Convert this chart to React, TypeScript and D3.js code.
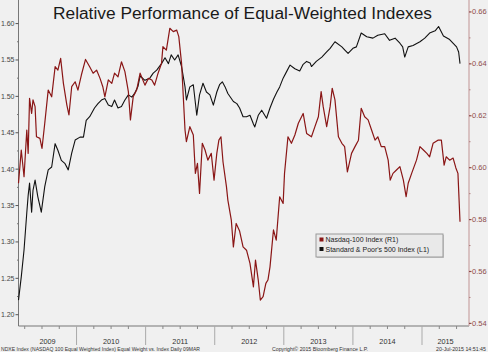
import React from 'react';
import * as d3 from 'd3';

const W = 488;
const H = 352;

const chartTitle = 'Relative Performance of Equal-Weighted Indexes';

// Standard & Poor's 500 equal weight vs index (left axis, L1)
const spxYears = [2009.16,2009.20,2009.24,2009.28,2009.30,2009.32,2009.35,2009.37,2009.40,2009.44,2009.49,2009.54,2009.59,2009.64,2009.69,2009.73,2009.78,2009.83,2009.88,2009.93,2009.98,2010.05,2010.10,2010.14,2010.19,2010.26,2010.31,2010.36,2010.41,2010.46,2010.51,2010.55,2010.60,2010.65,2010.70,2010.75,2010.80,2010.84,2010.89,2010.92,2010.99,2011.06,2011.11,2011.16,2011.23,2011.28,2011.33,2011.37,2011.42,2011.47,2011.52,2011.57,2011.59,2011.64,2011.69,2011.74,2011.78,2011.83,2011.88,2011.93,2011.98,2012.03,2012.07,2012.11,2012.15,2012.19,2012.27,2012.32,2012.36,2012.41,2012.46,2012.51,2012.56,2012.58,2012.63,2012.68,2012.75,2012.80,2012.85,2012.90,2012.94,2012.99,2013.04,2013.09,2013.16,2013.23,2013.28,2013.33,2013.38,2013.40,2013.47,2013.55,2013.62,2013.67,2013.74,2013.84,2013.88,2013.93,2014.00,2014.05,2014.12,2014.20,2014.29,2014.36,2014.46,2014.53,2014.61,2014.68,2014.72,2014.75,2014.80,2014.87,2014.97,2015.04,2015.11,2015.19,2015.24,2015.31,2015.40,2015.50,2015.53,2015.55];
const spxValues = [1.220,1.252,1.289,1.340,1.364,1.381,1.341,1.371,1.385,1.362,1.341,1.376,1.399,1.403,1.435,1.426,1.412,1.408,1.399,1.422,1.440,1.444,1.444,1.467,1.472,1.484,1.490,1.495,1.497,1.488,1.486,1.495,1.484,1.486,1.495,1.502,1.499,1.504,1.514,1.528,1.522,1.525,1.532,1.536,1.545,1.553,1.545,1.557,1.550,1.557,1.541,1.513,1.495,1.513,1.516,1.474,1.502,1.518,1.506,1.502,1.488,1.506,1.516,1.520,1.513,1.504,1.493,1.490,1.484,1.472,1.472,1.474,1.462,1.458,1.474,1.481,1.470,1.484,1.496,1.506,1.513,1.525,1.534,1.543,1.538,1.535,1.544,1.548,1.546,1.541,1.548,1.554,1.561,1.566,1.575,1.568,1.564,1.559,1.566,1.568,1.587,1.582,1.580,1.584,1.586,1.577,1.580,1.573,1.568,1.554,1.568,1.570,1.575,1.580,1.587,1.590,1.596,1.583,1.578,1.568,1.561,1.545];

// Nasdaq-100 equal weight vs index (right axis, R1)
const ndxYears = [2009.16,2009.18,2009.20,2009.24,2009.28,2009.30,2009.32,2009.35,2009.37,2009.40,2009.42,2009.47,2009.50,2009.54,2009.59,2009.64,2009.69,2009.73,2009.77,2009.81,2009.86,2009.89,2009.93,2009.98,2010.02,2010.07,2010.13,2010.19,2010.24,2010.29,2010.34,2010.38,2010.41,2010.46,2010.51,2010.55,2010.60,2010.65,2010.70,2010.75,2010.78,2010.82,2010.87,2010.92,2010.99,2011.04,2011.09,2011.13,2011.18,2011.23,2011.25,2011.30,2011.35,2011.40,2011.45,2011.48,2011.52,2011.57,2011.59,2011.64,2011.69,2011.72,2011.75,2011.78,2011.82,2011.86,2011.90,2011.95,2011.99,2012.03,2012.06,2012.09,2012.12,2012.17,2012.19,2012.24,2012.27,2012.31,2012.36,2012.41,2012.46,2012.51,2012.56,2012.59,2012.63,2012.66,2012.70,2012.74,2012.77,2012.80,2012.85,2012.89,2012.94,2012.99,2013.01,2013.06,2013.11,2013.16,2013.21,2013.28,2013.33,2013.40,2013.45,2013.50,2013.54,2013.57,2013.62,2013.67,2013.70,2013.74,2013.79,2013.84,2013.88,2013.92,2013.98,2014.03,2014.08,2014.12,2014.17,2014.22,2014.27,2014.32,2014.36,2014.41,2014.46,2014.51,2014.54,2014.58,2014.63,2014.68,2014.73,2014.77,2014.80,2014.85,2014.92,2014.97,2015.02,2015.07,2015.11,2015.16,2015.23,2015.28,2015.32,2015.35,2015.40,2015.45,2015.49,2015.52,2015.55];
const ndxValues = [0.5940,0.6004,0.6068,0.5965,0.6145,0.6055,0.6267,0.6209,0.6261,0.6235,0.6119,0.6113,0.6074,0.6171,0.6299,0.6273,0.6389,0.6376,0.6421,0.6325,0.6241,0.6203,0.6312,0.6331,0.6299,0.6357,0.6417,0.6389,0.6364,0.6376,0.6344,0.6312,0.6273,0.6338,0.6325,0.6364,0.6350,0.6408,0.6370,0.6293,0.6184,0.6273,0.6299,0.6364,0.6318,0.6344,0.6338,0.6318,0.6364,0.6402,0.6466,0.6453,0.6537,0.6524,0.6530,0.6505,0.6402,0.6145,0.6100,0.6158,0.6126,0.5978,0.6017,0.5901,0.6094,0.6068,0.6029,0.6055,0.5952,0.6055,0.6106,0.6119,0.6022,0.5926,0.5875,0.5798,0.5695,0.5785,0.5756,0.5695,0.5682,0.5631,0.5541,0.5644,0.5567,0.5490,0.5503,0.5554,0.5567,0.5618,0.5760,0.5721,0.5888,0.5862,0.5978,0.6119,0.6094,0.6126,0.6171,0.6209,0.6132,0.6119,0.6158,0.6196,0.6293,0.6235,0.6158,0.6235,0.6306,0.6261,0.6119,0.6094,0.6081,0.5984,0.6055,0.6081,0.6106,0.6229,0.6196,0.6184,0.6145,0.6106,0.6119,0.6081,0.6081,0.6029,0.5952,0.5978,0.5991,0.6004,0.5952,0.5888,0.5940,0.5978,0.6029,0.6081,0.6068,0.6055,0.6042,0.6094,0.6106,0.6106,0.6010,0.6042,0.6029,0.6037,0.5999,0.5978,0.5792];

const yearLabels = ['2009', '2010', '2011', '2012', '2013', '2014', '2015'];
const leftTickValues = [1.20, 1.25, 1.30, 1.35, 1.40, 1.45, 1.50, 1.55, 1.60];
const rightTickValues = [0.54, 0.56, 0.58, 0.60, 0.62, 0.64, 0.66];
const legendLabels = ['Nasdaq-100 Index (R1)', "Standard & Poor's 500 Index (L1)"];
const footerLeft = 'NDXE Index (NASDAQ 100 Equal Weighted Index) Equal Weight vs. Index  Daily 09MAR';
const footerMid = 'Copyright\u00A9 2015 Bloomberg Finance L.P.';
const footerRight = '20-Jul-2015 14:51:45';

const RED = '#8a1616';
const BLACK = '#111111';

export default function App() {
  const x0 = 18.5, x1 = 469, yTop = 0, yBot = 326;
  const x = d3.scaleLinear().domain([2009.16, 2015.68]).range([x0, x1]);
  const yL = d3.scaleLinear().domain([1.1845, 1.6324]).range([yBot, yTop]);
  const yR = d3.scaleLinear().domain([0.539, 0.6646]).range([yBot, yTop]);

  const lineL = d3.line<number>().x((_, i) => x(spxYears[i])).y((d) => yL(d));
  const lineR = d3.line<number>().x((_, i) => x(ndxYears[i])).y((d) => yR(d));

  const yearNums = yearLabels.map(Number);
  const boundaries = yearNums.slice(1).map((y) => x(y));
  const quarterTicks: number[] = [];
  yearNums.forEach((yr) => {
    [0.25, 0.5, 0.75].forEach((q) => {
      const v = yr + q;
      if (v > 2009.16 && v < 2015.68) quarterTicks.push(x(v));
    });
  });
  const leftMinor = d3.range(0, 16).map((i) => 1.2 + i * 0.05 + 0.025).filter((v) => v < 1.61);
  const rightMinor = d3.range(0, 6).map((i) => 0.55 + i * 0.02);

  const tickFont = 'Liberation Sans, Arial, sans-serif';

  return (
    <svg width={W} height={H} style={{ position: 'absolute', left: 0, top: 0, display: 'block' }}>
      <rect x={0} y={0} width={W} height={H} fill="#f0f0f0" />

      {/* title */}
      <text x={53} y={19} fontFamily="Liberation Sans, Arial, sans-serif" fontSize={17.3} fill="#1a1a1a"
        textLength={379} lengthAdjust="spacingAndGlyphs">{chartTitle}</text>

      {/* axes lines */}
      <line x1={x0} x2={x0} y1={yTop} y2={yBot} stroke="#777" strokeWidth={1} />
      <line x1={x0} x2={x1} y1={yBot} y2={yBot} stroke="#777" strokeWidth={1} />
      <line x1={x1} x2={x1} y1={yTop} y2={yBot} stroke="#c9a3a3" strokeWidth={1.2} />

      {/* left ticks */}
      {leftTickValues.map((v) => (
        <g key={'l' + v}>
          <line x1={x0 - 3} x2={x0} y1={yL(v)} y2={yL(v)} stroke="#555" />
          <text x={x0 - 4} y={yL(v) + 2.5} textAnchor="end" fontFamily={tickFont} fontSize={7} fill="#444">
            {v.toFixed(2)}
          </text>
        </g>
      ))}
      {leftMinor.map((v) => (
        <line key={'lm' + v} x1={x0 - 1.5} x2={x0} y1={yL(v)} y2={yL(v)} stroke="#777" />
      ))}

      {/* right ticks */}
      {rightTickValues.map((v) => (
        <g key={'r' + v}>
          <line x1={x1} x2={x1 + 2.5} y1={yR(v)} y2={yR(v)} stroke="#8e4c4c" strokeWidth={1.2} />
          <text x={x1 + 3} y={yR(v) + 2.5} fontFamily={tickFont} fontSize={7.5} fill="#8e4c4c">
            {v.toFixed(2)}
          </text>
        </g>
      ))}
      {rightMinor.map((v) => (
        <line key={'rm' + v} x1={x1} x2={x1 + 1.5} y1={yR(v)} y2={yR(v)} stroke="#b08080" />
      ))}

      {/* x axis */}
      {boundaries.map((bx, i) => (
        <line key={'b' + i} x1={bx} x2={bx} y1={yBot} y2={345} stroke="#aaa" strokeWidth={1} />
      ))}
      {quarterTicks.map((qx, i) => (
        <line key={'q' + i} x1={qx} x2={qx} y1={yBot} y2={yBot + 3} stroke="#888" strokeWidth={1} />
      ))}
      {yearNums.map((yr, i) => {
        const a = Math.max(x(yr), x0);
        const b = Math.min(x(yr + 1), x1);
        return (
          <text key={'y' + yr} x={(a + b) / 2} y={343.5} textAnchor="middle" fontFamily={tickFont}
            fontSize={7.3} fill="#333">{yearLabels[i]}</text>
        );
      })}

      {/* series */}
      <path d={lineL(spxValues) || ''} fill="none" stroke={BLACK} strokeWidth={1.1} strokeLinejoin="round" />
      <path d={lineR(ndxValues) || ''} fill="none" stroke={RED} strokeWidth={1.2} strokeLinejoin="round" />

      {/* legend */}
      <rect x={317} y={235} width={127} height={23} fill="#c8c8c8" />
      <rect x={316} y={234} width={127} height={23} fill="#e9e9e9" stroke="#9a9a9a" strokeWidth={1} />
      {legendLabels.map((lab, i) => (
        <g key={lab}>
          <rect x={319.5} y={237.5 + i * 9.5} width={4} height={4} fill={i === 0 ? RED : BLACK} />
          <text x={325.5} y={242 + i * 9.5} fontFamily={tickFont} fontSize={7} fill="#222">{lab}</text>
        </g>
      ))}

      {/* footer */}
      <text x={1} y={351} fontFamily={tickFont} fontSize={4.8} fill="#333" textLength={199} lengthAdjust="spacingAndGlyphs">{footerLeft}</text>
      <text x={272} y={351} fontFamily={tickFont} fontSize={4.8} fill="#333" textLength={96} lengthAdjust="spacingAndGlyphs">{footerMid}</text>
      <text x={436} y={351} fontFamily={tickFont} fontSize={4.8} fill="#333" textLength={50} lengthAdjust="spacingAndGlyphs">{footerRight}</text>
    </svg>
  );
}
